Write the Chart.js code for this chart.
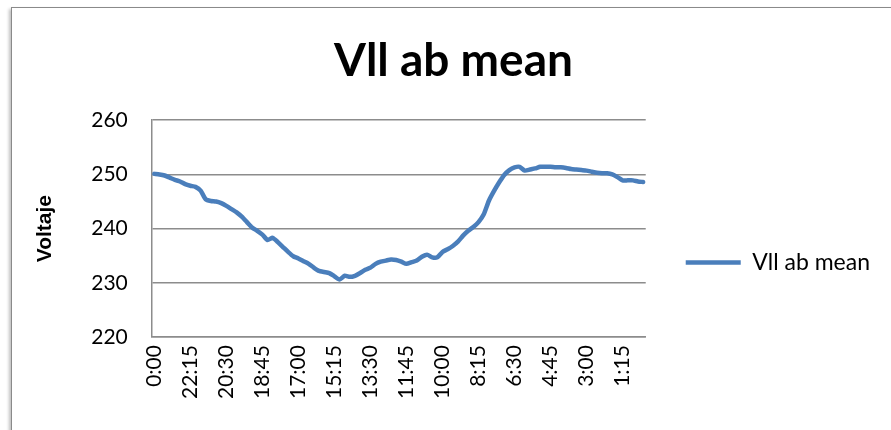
<!DOCTYPE html>
<html>
<head>
<meta charset="utf-8">
<script src="https://cdn.jsdelivr.net/npm/chart.js@4"></script>
<style>
  html, body { margin: 0; padding: 0; background: #fff; }
  #wrap { position: relative; width: 891px; height: 430px; overflow: hidden; }
  #frame {
    position: absolute; left: 11px; top: 7px; width: 900px; height: 460px;
    border: 1px solid #8a8a8a; box-shadow: -2px 2px 3px rgba(0,0,0,0.25);
  }
  #c { position: absolute; left: 0; top: 0; }
</style>
</head>
<body>
<div id="wrap">
  <div id="frame"></div>
  <canvas id="c" width="891" height="430"></canvas>
</div>
<script>
// categories: 15-minute steps going backwards from 0:00
const times = [
  "0:00",
  "23:45","23:30","23:15","23:00","22:45","22:30","22:15","22:00",
  "21:45","21:30","21:15","21:00","20:45","20:30","20:15","20:00",
  "19:45","19:30","19:15","19:00","18:45","18:30","18:15","18:00",
  "17:45","17:30","17:15","17:00","16:45","16:30","16:15","16:00",
  "15:45","15:30","15:15","15:00","14:45","14:30","14:15","14:00",
  "13:45","13:30","13:15","13:00","12:45","12:30","12:15","12:00",
  "11:45","11:30","11:15","11:00","10:45","10:30","10:15","10:00",
  "9:45","9:30","9:15","9:00","8:45","8:30","8:15","8:00",
  "7:45","7:30","7:15","7:00","6:45","6:30","6:15","6:00",
  "5:45","5:30","5:15","5:00","4:45","4:30","4:15","4:00",
  "3:45","3:30","3:15","3:00","2:45","2:30","2:15","2:00",
  "1:45","1:30","1:15","1:00","0:45","0:30","0:15"
];

const vllAbMean = [
  250.1, 250.0, 249.8, 249.4, 249.0, 248.7, 248.2, 247.9, 247.7, 247.0,
  245.4, 245.1, 245.0, 244.7, 244.2, 243.6, 243.0, 242.2, 241.2, 240.2,
  239.6, 238.9, 237.9, 238.3, 237.5, 236.6, 235.7, 234.9, 234.5, 234.0,
  233.5, 232.8, 232.2, 232.0, 231.8, 231.2, 230.6, 231.3, 231.1, 231.3,
  231.8, 232.4, 232.8, 233.5, 233.9, 234.1, 234.3, 234.2, 233.9, 233.5,
  233.8, 234.1, 234.8, 235.2, 234.7, 234.7, 235.7, 236.2, 236.8, 237.6,
  238.7, 239.6, 240.3, 241.2, 242.6, 245.1, 246.9, 248.5, 249.9, 250.8,
  251.3, 251.4, 250.7, 250.9, 251.1, 251.4, 251.4, 251.4, 251.3, 251.3,
  251.2, 251.0, 250.9, 250.8, 250.7, 250.5, 250.3, 250.2, 250.2, 250.0,
  249.5, 248.9, 248.9, 248.9, 248.7, 248.6
];

const yMin = 220, yMax = 260, yStep = 10;
const labelEvery = 7;

const gridGrey = '#8c8c8c';
const lineBlue = '#4a7ebb';

new Chart(document.getElementById('c').getContext('2d'), {
  type: 'line',
  data: {
    labels: times,
    datasets: [{
      label: 'Vll ab mean',
      data: vllAbMean,
      borderColor: lineBlue,
      backgroundColor: lineBlue,
      borderWidth: 4.5,
      pointRadius: 0,
      tension: 0.2,
      borderCapStyle: 'round',
      borderJoinStyle: 'round'
    }]
  },
  options: {
    responsive: false,
    animation: false,
    layout: { padding: { left: 27, right: 11, top: 14, bottom: 23 } },
    plugins: {
      title: {
        display: true,
        text: 'Vll ab mean',
        color: '#000',
        font: { family: 'Lato', size: 46, weight: 'bold', lineHeight: 1.2 },
        padding: { top: 20, bottom: 31 }
      },
      legend: {
        position: 'right',
        maxWidth: 300, // default cap (half of half the width) would clip the label
        // empty title only used to push the entry down a bit
        title: { display: true, text: '', font: { size: 20 }, padding: { top: 80, bottom: 0 } },
        labels: {
          usePointStyle: true,
          pointStyle: 'line',
          pointStyleWidth: 55,
          boxHeight: 4,
          color: '#000',
          padding: 40,
          font: { family: 'Lato', size: 23 }
        }
      },
      tooltip: { enabled: false }
    },
    scales: {
      x: {
        offset: true,
        grid: { display: false, drawTicks: false },
        border: { display: true, color: gridGrey, width: 1.5 },
        ticks: {
          autoSkip: false,
          minRotation: 90,
          maxRotation: 90,
          padding: 8,
          color: '#000',
          font: { family: 'Lato', size: 21 },
          callback: function (v, i) { return i % labelEvery === 0 ? times[i] : ''; }
        }
      },
      y: {
        min: yMin,
        max: yMax,
        grid: { color: gridGrey, lineWidth: 1.5, drawTicks: false },
        border: { display: true, color: gridGrey, width: 1.5 },
        ticks: {
          stepSize: yStep,
          padding: 24,
          color: '#000',
          font: { family: 'Lato', size: 21 }
        },
        title: {
          display: true,
          text: 'Voltaje',
          color: '#000',
          font: { family: 'Liberation Sans', size: 21, weight: 'bold' },
          padding: { top: 6, bottom: 9 }
        }
      }
    }
  }
});
</script>
</body>
</html>
